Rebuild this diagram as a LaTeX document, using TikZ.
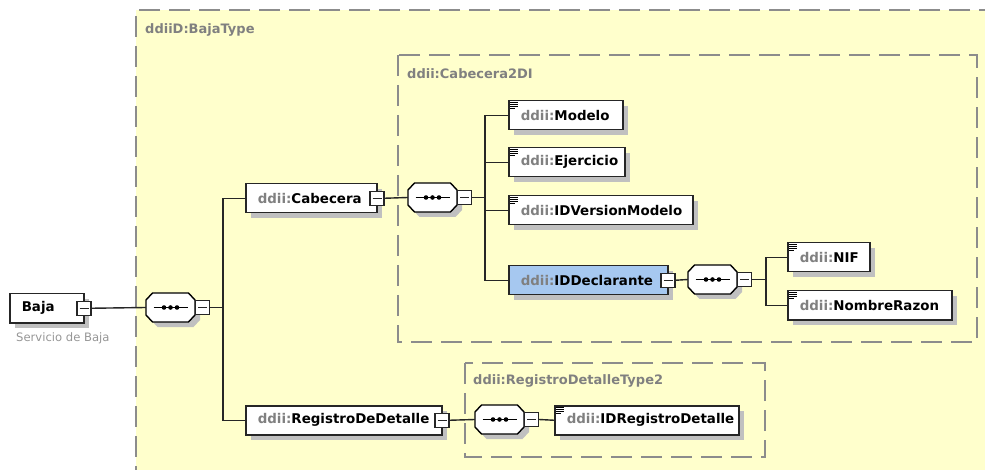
\documentclass[tikz,border=0pt]{standalone}
\usepackage{fontspec}
\setmainfont{DejaVu Sans}
\usetikzlibrary{shadows,calc}
\definecolor{ylw}{HTML}{FFFFCC}
\definecolor{dash}{HTML}{8C8C8C}
\definecolor{pfx}{HTML}{808080}
\definecolor{shc}{HTML}{C0C0C0}
\definecolor{sel}{HTML}{A6C8F0}
\definecolor{sub}{HTML}{969696}
\newcommand\pf{{\color{pfx}ddii:}}
\newcommand\oct[2]{({#1-24.5},{#2-7.5}) -- ({#1-18},{#2-14.5}) -- ({#1+18},{#2-14.5}) -- ({#1+24.5},{#2-7.5}) -- ({#1+24.5},{#2+7.5}) -- ({#1+18},{#2+14.5}) -- ({#1-18},{#2+14.5}) -- ({#1-24.5},{#2+7.5}) -- cycle}
\newcommand\seqn[3]{%
  \fill[shc,shift={(5,5)}] \oct{#2}{#3};
  \draw[line width=1.4pt,fill=white] \oct{#2}{#3};
  \node[inner sep=0pt,minimum width=49pt,minimum height=29pt] (#1) at (#2,#3) {};
  \draw[line width=1.4pt] ({#2-17},#3) -- ({#2+17},#3);
  \fill ({#2-6.5},#3) circle (2.3pt) (#2,#3) circle (2.3pt) ({#2+6.5},#3) circle (2.3pt);
  \node[minusbox] (#1m) at ({#2+32},#3) {};
}
\tikzset{
  elem/.style={draw=black!85,line width=1.5pt,fill=white,minimum height=29pt,inner xsep=12pt,inner ysep=0pt,
    anchor=north west,align=left,font=\fontsize{13.4}{15}\selectfont\bfseries,
    drop shadow={shadow xshift=5pt,shadow yshift=-5pt,fill=shc,opacity=1}},
  minusbox/.style={draw=black!85,line width=1.2pt,fill=white,minimum size=14pt,inner sep=0pt,
    path picture={\draw[line width=1.2pt] ([xshift=2.5pt]path picture bounding box.west) -- ([xshift=-2.5pt]path picture bounding box.east);}},
  conn/.style={line width=1.4pt,black!85},
  dbox/.style={draw=dash,line width=1.4pt,dash pattern=on 21pt off 9pt},
  blabel/.style={anchor=west,text=pfx,font=\fontsize{13}{15}\selectfont\bfseries,inner sep=0pt},
  docicon/.pic={\draw[line width=0.8pt] (0,0) -- (8,0) (0,2) -- (8,2) (0,4) -- (8,4) (0,6) -- (5,6);}
}
\begin{document}
\begin{tikzpicture}[x=1pt,y=-1pt]
\useasboundingbox (0,0) rectangle (985,470);
% outer type box
\fill[ylw] (136,10) rectangle (1000,480);
\draw[dbox] (1000,10) -- (136,10) -- (136,480);
\node[blabel] (lbajatype) at (145,30) {ddiiD:BajaType};
% inner type boxes
\draw[dbox] (398,55) rectangle (977,342);
\node[blabel] (lcab2) at (407,74) {ddii:Cabecera2DI};
\draw[dbox] (465,363) rectangle (765,457);
\node[blabel] (lreg2) at (473,381) {ddii:RegistroDetalleType2};
% root
\node[elem,text width=50pt] (baja) at (9,293) {Baja};
\node[minusbox] (bajam) at ([xshift=-0.5pt]baja.east) {};
\node[anchor=north west,inner sep=0pt,text=sub,font=\fontsize{11.6}{14}\selectfont] (bajadoc) at (16,332) {Servicio de Baja};
% sequence 1
\seqn{s1}{170.5}{307.5}
\coordinate (j1) at (223,307.5);
% Cabecera
\node[elem,text width=107pt] (cab) at (245,183) {\pf Cabecera};
\node[minusbox] (cabm) at ([xshift=-0.5pt]cab.east) {};
\node[elem,text width=172pt] (reg) at (245,405) {\pf RegistroDeDetalle};
\node[minusbox] (regm) at ([xshift=-0.5pt]reg.east) {};
\draw[conn] (bajam.east) -- (s1.west);
\draw[conn] (s1m.east) -- (j1);
\draw[conn] (cab.west) -| (j1) |- (reg.west);
% sequence 2
\seqn{s2}{432.5}{197.5}
\draw[conn] (cabm.east) -- (s2.west);
\coordinate (j2) at (485,197.5);
\node[elem,text width=90pt] (mod) at (508,100) {\pf Modelo};
\node[elem,text width=92pt] (eje) at (508,147) {\pf Ejercicio};
\node[elem,text width=160pt] (idv) at (508,195) {\pf IDVersionModelo};
\node[elem,fill=sel,text width=135pt] (idd) at (508,265) {\pf IDDeclarante};
\node[minusbox] (iddm) at ([xshift=-0.5pt]idd.east) {};
\pic at ([xshift=2pt,yshift=-2pt]mod.north west) {docicon};
\pic at ([xshift=2pt,yshift=-2pt]eje.north west) {docicon};
\pic at ([xshift=2pt,yshift=-2pt]idv.north west) {docicon};
\draw[conn] (s2m.east) -- (j2);
\draw[conn] (mod.west) -| (j2) |- (idd.west);
\draw[conn] (j2 |- eje.west) -- (eje.west);
\draw[conn] (j2 |- idv.west) -- (idv.west);
% sequence 3
\seqn{s3}{712.5}{279.5}
\draw[conn] (iddm.east) -- (s3.west);
\coordinate (j3) at (766,279.5);
\node[elem,text width=58pt] (nif) at (787,242) {\pf NIF};
\node[elem,text width=140pt] (nom) at (787,290) {\pf NombreRazon};
\pic at ([xshift=2pt,yshift=-2pt]nif.north west) {docicon};
\pic at ([xshift=2pt,yshift=-2pt]nom.north west) {docicon};
\draw[conn] (s3m.east) -- (j3);
\draw[conn] (nif.west) -| (j3) |- (nom.west);
% sequence 4
\seqn{s4}{499.5}{419.5}
\draw[conn] (regm.east) -- (s4.west);
\node[elem,text width=160pt] (idr) at (554,405) {\pf IDRegistroDetalle};
\pic at ([xshift=2pt,yshift=-2pt]idr.north west) {docicon};
\draw[conn] (s4m.east) -- (idr.west);
\end{tikzpicture}
\end{document}
